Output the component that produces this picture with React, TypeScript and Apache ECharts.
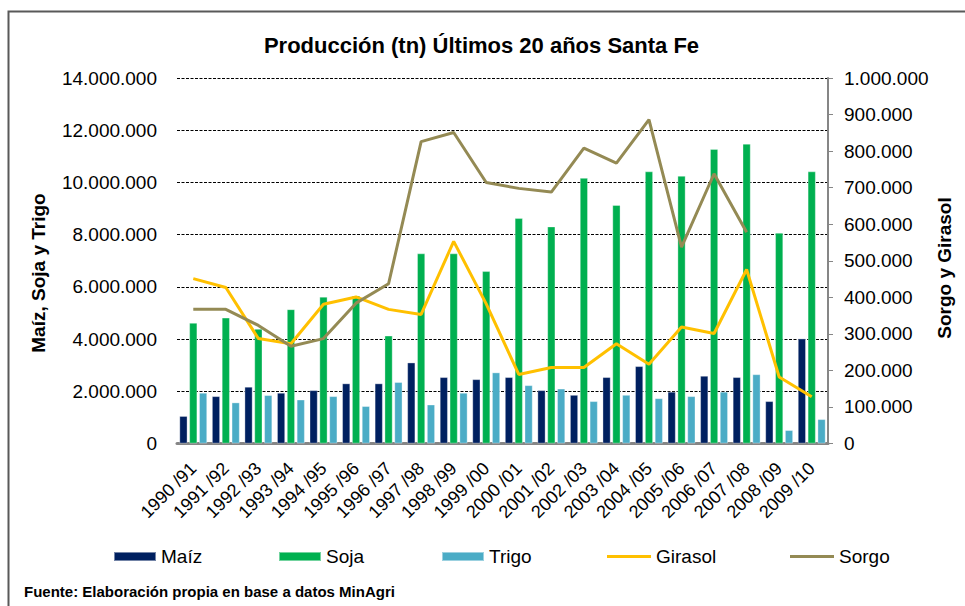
import React, { useEffect, useRef } from "react";
import * as echarts from "echarts";

const categories = [
  "1990 /91", "1991 /92", "1992 /93", "1993 /94", "1994 /95",
  "1995 /96", "1996 /97", "1997 /98", "1998 /99", "1999 /00",
  "2000 /01", "2001 /02", "2002 /03", "2003 /04", "2004 /05",
  "2005 /06", "2006 /07", "2007 /08", "2008 /09", "2009 /10",
];

const maiz = [1050000, 1810000, 2170000, 1940000, 2040000, 2300000, 2300000, 3100000, 2540000, 2460000, 2540000, 2040000, 1860000, 2540000, 2960000, 1980000, 2590000, 2540000, 1620000, 4020000];
const soja = [4620000, 4820000, 4390000, 5140000, 5620000, 5660000, 4130000, 7280000, 7280000, 6600000, 8630000, 8310000, 10170000, 9130000, 10420000, 10250000, 11280000, 11480000, 8070000, 10420000];
const trigo = [1940000, 1570000, 1850000, 1680000, 1810000, 1430000, 2350000, 1490000, 1940000, 2720000, 2230000, 2100000, 1620000, 1860000, 1730000, 1810000, 1980000, 2650000, 510000, 930000];
const girasol = [451000, 427000, 287000, 273000, 381000, 401000, 367000, 353000, 553000, 382000, 189000, 208000, 208000, 273000, 217000, 319000, 301000, 476000, 182000, 128000];
const sorgo: (number | null)[] = [367000, 367000, 323000, 266000, 287000, 384000, 437000, 826000, 851000, 714000, 698000, 688000, 808000, 767000, 886000, 537000, 738000, 578000, null, null];

const title = "Producción (tn) Últimos 20 años Santa Fe";
const leftAxisName = "Maíz, Soja y Trigo";
const rightAxisName = "Sorgo y Girasol";
const source = "Fuente: Elaboración propia en base a datos MinAgri";

const FONT = "'Liberation Sans', Arial, sans-serif";

const fmt = (v: number) => String(Math.round(v)).replace(/\B(?=(\d{3})+(?!\d))/g, ".");

export default function App() {
  const ref = useRef<HTMLDivElement>(null);
  useEffect(() => {
    if (!ref.current) return;
    const chart = echarts.init(ref.current, undefined, { renderer: "svg" });
    const legendText = { fontSize: 19, color: "#000", fontFamily: FONT };
    const barStyle = (color: string) => ({
      color,
      borderColor: "rgba(255,255,255,0.45)",
      borderWidth: 0.75,
    });
    chart.setOption({
      animation: false,
      backgroundColor: "#fff",
      textStyle: { fontFamily: FONT },
      grid: { left: 177, right: 137, top: 78, bottom: 162.5, containLabel: false },
      legend: [
        { left: 108, top: 542, icon: "rect", itemWidth: 42, itemHeight: 9, itemGap: 0, data: ["Maíz"], textStyle: legendText },
        { left: 273, top: 542, icon: "rect", itemWidth: 42, itemHeight: 9, itemGap: 0, data: ["Soja"], textStyle: legendText },
        { left: 436, top: 542, icon: "rect", itemWidth: 42, itemHeight: 9, itemGap: 0, data: ["Trigo"], textStyle: legendText },
        { left: 602, top: 542, icon: "rect", itemWidth: 44, itemHeight: 3, itemGap: 0, data: ["Girasol"], textStyle: legendText },
        { left: 785, top: 542, icon: "rect", itemWidth: 44, itemHeight: 3, itemGap: 0, data: ["Sorgo"], textStyle: legendText },
      ],
      xAxis: {
        type: "category",
        data: categories,
        axisLine: { show: true, lineStyle: { color: "#868686", width: 3 } },
        axisTick: { show: false },
        axisLabel: { rotate: 45, fontSize: 18, color: "#000", margin: 22, interval: 0, fontFamily: FONT },
      },
      yAxis: [
        {
          type: "value",
          min: 0,
          max: 14000000,
          interval: 2000000,
          axisLine: { show: false },
          axisTick: { show: false },
          splitLine: { show: true, lineStyle: { color: "#000", type: [3, 1.5], width: 1.2 } },
          axisLabel: { fontSize: 19, color: "#000", margin: 20, formatter: fmt, fontFamily: FONT },
        },
        {
          type: "value",
          min: 0,
          max: 1000000,
          interval: 100000,
          position: "right",
          axisLine: { show: true, lineStyle: { color: "#868686", width: 2 } },
          axisTick: { show: true, inside: false, length: 5, lineStyle: { color: "#868686", width: 1 } },
          splitLine: { show: false },
          axisLabel: { fontSize: 19, color: "#000", margin: 16, formatter: fmt, fontFamily: FONT },
        },
      ],
      series: [
        { name: "Maíz", type: "bar", data: maiz, barWidth: 8, barGap: "23%", itemStyle: barStyle("#002060") },
        { name: "Soja", type: "bar", data: soja, barWidth: 8, barGap: "23%", itemStyle: barStyle("#00B050") },
        { name: "Trigo", type: "bar", data: trigo, barWidth: 8, barGap: "23%", itemStyle: barStyle("#4BACC6") },
        {
          name: "Girasol", type: "line", yAxisIndex: 1, data: girasol, symbol: "none",
          lineStyle: { color: "#FFC000", width: 3 }, itemStyle: { color: "#FFC000" },
        },
        {
          name: "Sorgo", type: "line", yAxisIndex: 1, data: sorgo, symbol: "none", connectNulls: false,
          lineStyle: { color: "#948A54", width: 3 }, itemStyle: { color: "#948A54" },
        },
      ],
      graphic: [
        {
          type: "rect", silent: true, z: -1,
          shape: { x: 8.5, y: 11.5, width: 1100, height: 800 },
          style: { fill: "none", stroke: "#595959", lineWidth: 2 },
        },
        {
          type: "text", x: 481.5, y: 45,
          style: { text: title, fontSize: 22, fontWeight: "bold", fill: "#000", fontFamily: FONT, align: "center", verticalAlign: "middle" },
        },
        {
          type: "text", x: 38, y: 273, rotation: Math.PI / 2,
          style: { text: leftAxisName, fontSize: 19, fontWeight: "bold", fill: "#000", fontFamily: FONT, align: "center", verticalAlign: "middle" },
        },
        {
          type: "text", x: 944, y: 268, rotation: Math.PI / 2,
          style: { text: rightAxisName, fontSize: 19, fontWeight: "bold", fill: "#000", fontFamily: FONT, align: "center", verticalAlign: "middle" },
        },
        {
          type: "text", x: 24, y: 591,
          style: { text: source, fontSize: 15, fontWeight: "bold", fill: "#000", fontFamily: FONT, align: "left", verticalAlign: "middle" },
        },
      ],
    });
    return () => chart.dispose();
  }, []);
  return (
    <div
      ref={ref}
      style={{ position: "fixed", left: 0, top: 0, width: 965, height: 606, background: "#fff" }}
    />
  );
}
